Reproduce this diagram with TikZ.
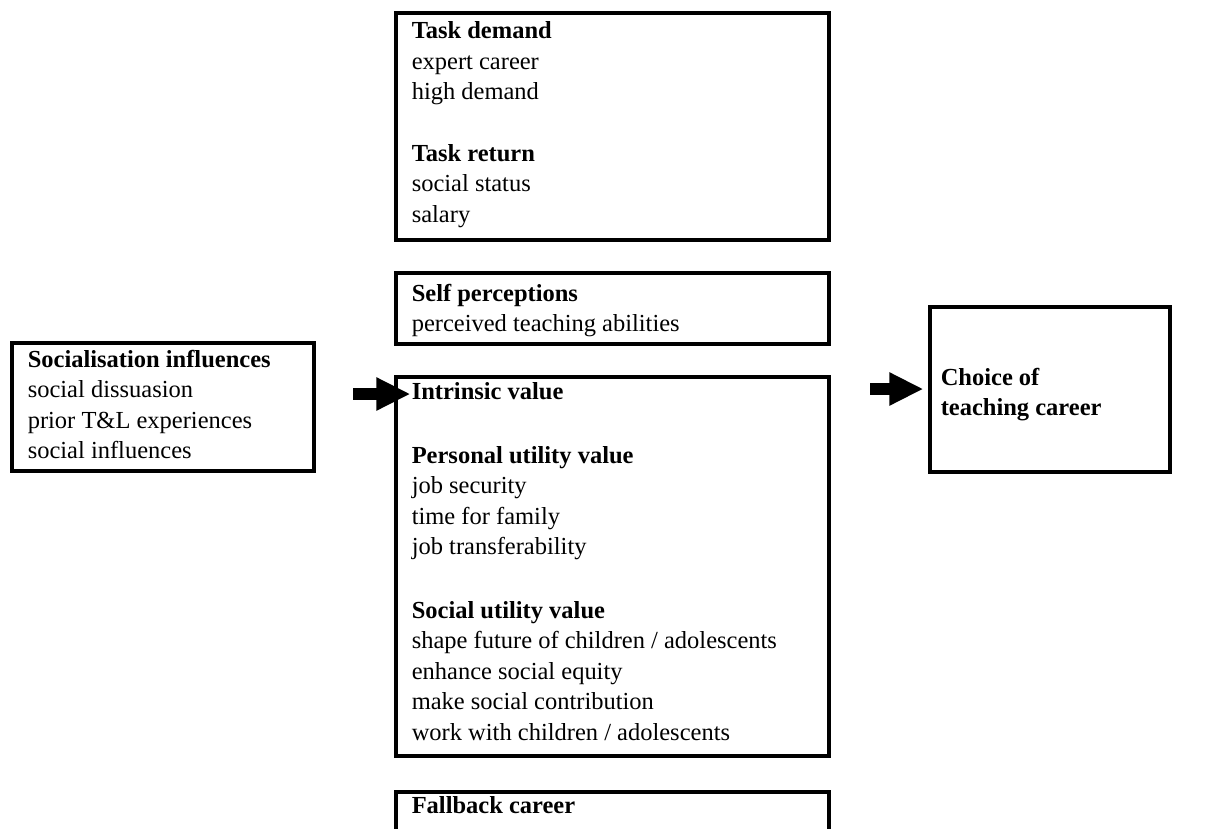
\documentclass[tikz,border=0pt]{standalone}
\usepackage{fontspec}
\setmainfont{Liberation Serif}
\usetikzlibrary{fit,arrows.meta}

\tikzset{
  frame/.style={draw, line width=1.6pt, inner sep=0pt},
  body/.style={anchor=north west, align=left, inner sep=0pt, font=\fontsize{12}{15}\selectfont},
  blockarrow/.style={line width=5.6pt, line cap=butt, -{Triangle[length=16.7pt, width=15.2pt]}},
}

\begin{document}
\begin{tikzpicture}[x=0.49pt, y=-0.49pt]
  \useasboundingbox (0,0) rectangle (1230,829);
  \clip (0,0) rectangle (1230,829);

  % Frames
  \node[frame, fit={(12,343) (314,471)}] (social) {};
  \node[frame, fit={(396,13) (829,240)}] (task) {};
  \node[frame, fit={(396,273) (829,344)}] (self) {};
  \node[frame, fit={(396,377) (829,756)}] (intrinsic) {};
  \node[frame, fit={(396,792) (829,900)}] (fallback) {};
  \node[frame, fit={(930,307) (1170,472)}] (choice) {};

  % Texts
  \node[body] (socialtxt) at ([shift={(17,8)}]social.north west)
    {\textbf{Socialisation influences}\\ social dissuasion\\ prior T\&L experiences\\ social influences};
  \node[body] (tasktxt) at ([shift={(17,10)}]task.north west)
    {\textbf{Task demand}\\ expert career\\ high demand\\[15pt] \textbf{Task return}\\ social status\\ salary};
  \node[body] (selftxt) at ([shift={(17,12)}]self.north west)
    {\textbf{Self perceptions}\\ perceived teaching abilities};
  \node[body] (intrinsictxt) at ([shift={(17,7)}]intrinsic.north west)
    {\textbf{Intrinsic value}\\[16pt] \textbf{Personal utility value}\\ job security\\ time for family\\ job transferability\\[16pt]
     \textbf{Social utility value}\\ shape future of children / adolescents\\ enhance social equity\\ make social contribution\\ work with children / adolescents};
  \node[body] (fallbacktxt) at ([shift={(17,6)}]fallback.north west)
    {\textbf{Fallback career}};
  \node[body] (choicetxt) at ([shift={(12,62)}]choice.north west)
    {\textbf{Choice of}\\ \textbf{teaching career}};

  % Arrows
  \coordinate (gap1) at (353,394);
  \coordinate (tip1) at ([shift={(16,0)}]intrinsic.west);
  \draw[blockarrow] (gap1) -- (tip1 |- gap1);
  \coordinate (gap2) at (870,389);
  \coordinate (tip2) at ([shift={(-5,0)}]choice.west);
  \draw[blockarrow] (gap2) -- (tip2 |- gap2);
\end{tikzpicture}
\end{document}
